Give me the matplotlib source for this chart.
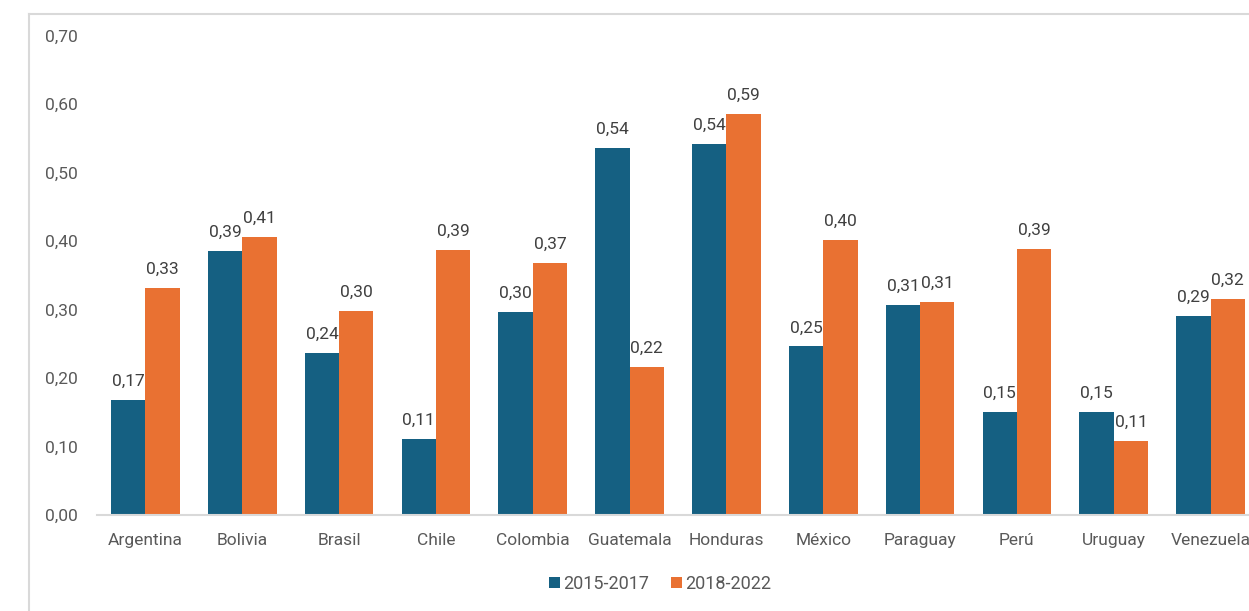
import matplotlib
matplotlib.use("Agg")
import matplotlib.pyplot as plt
import numpy as np
from matplotlib.lines import Line2D

categories = ["Argentina", "Bolivia", "Brasil", "Chile", "Colombia", "Guatemala",
              "Honduras", "México", "Paraguay", "Perú", "Uruguay", "Venezuela"]
s1_name = "2015-2017"
s2_name = "2018-2022"
s1 = [0.168, 0.386, 0.237, 0.111, 0.297, 0.536, 0.541, 0.246, 0.307, 0.150, 0.150, 0.290]
s2 = [0.331, 0.406, 0.298, 0.387, 0.368, 0.216, 0.586, 0.401, 0.311, 0.388, 0.108, 0.316]
yticks = [0.0, 0.1, 0.2, 0.3, 0.4, 0.5, 0.6, 0.7]

plt.rcParams['font.family'] = ['Roboto', 'DejaVu Sans']

W, H = 1249, 611
fig = plt.figure(figsize=(W / 100, H / 100), dpi=100)

# chart area border (top and left)
fig.add_artist(Line2D([29 / W, 29 / W], [0, 1 - 14 / H], color="#D9D9D9", lw=1.5, transform=fig.transFigure))
fig.add_artist(Line2D([29 / W, 1], [1 - 14 / H, 1 - 14 / H], color="#D9D9D9", lw=1.5, transform=fig.transFigure))

left = 97 / W
right_px = 1259
bottom = 1 - 515 / H
top = 1 - 35.5 / H
ax = fig.add_axes([left, bottom, (right_px - 97) / W, top - bottom])

x = np.arange(len(categories))
bw = 0.355
blue = "#156082"
orange = "#E97132"
b1 = ax.bar(x - bw / 2, s1, bw, color=blue, label=s1_name)
b2 = ax.bar(x + bw / 2, s2, bw, color=orange, label=s2_name)

def fmt(v):
    return f"{v:.2f}".replace(".", ",")

for bars, vals in ((b1, s1), (b2, s2)):
    for r, v in zip(bars, vals):
        ax.annotate(fmt(v), (r.get_x() + r.get_width() / 2, v), xytext=(0, 8),
                    textcoords="offset points", ha="center", va="bottom",
                    fontsize=12.5, color="#404040")

ax.set_xlim(-0.5, len(categories) - 0.5)
ax.set_ylim(0, 0.70)
ax.set_yticks(yticks)
ax.set_yticklabels([fmt(v) for v in yticks])
ax.set_xticks(x)
ax.set_xticklabels(categories)
ax.tick_params(axis="y", length=0, pad=14, labelsize=12.5, labelcolor="#595959")
ax.tick_params(axis="x", length=0, pad=13, labelsize=12.5, labelcolor="#595959")
for s in ("top", "right", "left"):
    ax.spines[s].set_visible(False)
ax.spines["bottom"].set_color("#D9D9D9")
ax.spines["bottom"].set_linewidth(1.5)

fig.legend(handles=[b1, b2], labels=[s1_name, s2_name], loc="center",
           bbox_to_anchor=(660 / W, 1 - 584 / H), ncol=2, frameon=False,
           fontsize=13, labelcolor="#595959", handlelength=0.6, handleheight=0.6,
           handletextpad=0.2, columnspacing=1.2)

fig.savefig("out.png", dpi=100)
